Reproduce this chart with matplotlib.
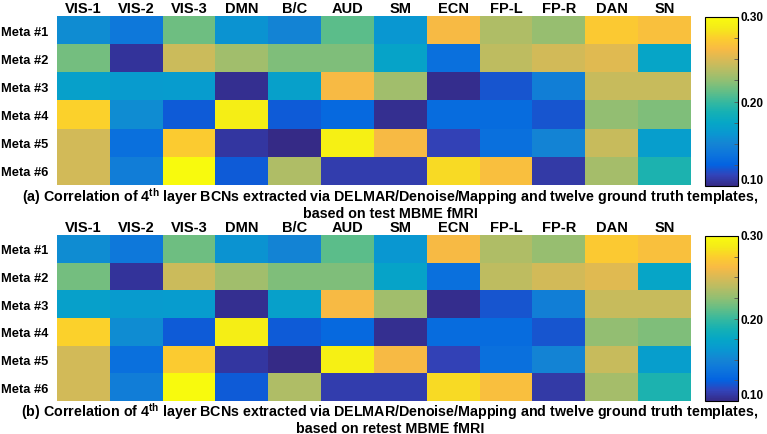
import matplotlib
matplotlib.use("Agg")
import matplotlib.pyplot as plt
import numpy as np
from matplotlib.colors import LinearSegmentedColormap

plt.rcParams['font.family'] = ['Liberation Sans', 'DejaVu Sans']
plt.rcParams['font.weight'] = 'bold'
plt.rcParams['mathtext.fontset'] = 'custom'
plt.rcParams['mathtext.rm'] = 'Liberation Sans:bold'
plt.rcParams['mathtext.bf'] = 'Liberation Sans:bold'

# networks (columns) and meta components (rows)
networks = ['VIS-1', 'VIS-2', 'VIS-3', 'DMN', 'B/C', 'AUD', 'SM',
            'ECN', 'FP-L', 'FP-R', 'DAN', 'SN']
metas = ['Meta #1', 'Meta #2', 'Meta #3', 'Meta #4', 'Meta #5', 'Meta #6']

corr_test = [
    [0.155, 0.140, 0.215, 0.160, 0.150, 0.210, 0.162, 0.262, 0.235, 0.227, 0.272, 0.266],
    [0.217, 0.105, 0.245, 0.230, 0.220, 0.220, 0.172, 0.135, 0.240, 0.247, 0.253, 0.174],
    [0.170, 0.165, 0.166, 0.103, 0.170, 0.262, 0.230, 0.102, 0.120, 0.146, 0.243, 0.243],
    [0.276, 0.155, 0.122, 0.290, 0.122, 0.130, 0.103, 0.132, 0.132, 0.120, 0.225, 0.220],
    [0.247, 0.135, 0.273, 0.107, 0.100, 0.292, 0.262, 0.112, 0.135, 0.150, 0.243, 0.168],
    [0.247, 0.145, 0.300, 0.122, 0.235, 0.110, 0.110, 0.280, 0.265, 0.108, 0.232, 0.190],
]
corr_retest = [row[:] for row in corr_test]

captions = [
    "(a) Correlation of 4$^{\\mathrm{th}}$ layer BCNs extracted via DELMAR/Denoise/Mapping "
    "and twelve ground truth templates,\nbased on test MBME fMRI",
    "(b) Correlation of 4$^{\\mathrm{th}}$ layer BCNs extracted via DELMAR/Denoise/Mapping "
    "and twelve ground truth templates,\nbased on retest MBME fMRI",
]

# approximate MATLAB parula
parula_pts = [
    (0.2081, 0.1663, 0.5292), (0.1959, 0.2645, 0.7279), (0.0117, 0.3875, 0.8820),
    (0.0498, 0.4586, 0.8641), (0.0793, 0.5200, 0.8312), (0.0343, 0.5966, 0.8199),
    (0.0228, 0.6535, 0.7768), (0.0843, 0.6928, 0.7062), (0.2178, 0.7250, 0.6193),
    (0.3953, 0.7459, 0.5244), (0.5709, 0.7485, 0.4494), (0.7184, 0.7411, 0.3905),
    (0.8507, 0.7299, 0.3360), (0.9739, 0.7314, 0.2666), (0.9880, 0.8066, 0.1794),
    (0.9598, 0.9218, 0.0948), (0.9763, 0.9831, 0.0538),
]
parula = LinearSegmentedColormap.from_list('parula', parula_pts)

W, H = 767, 435
fig = plt.figure(figsize=(W / 100, H / 100), dpi=100)


def px(l, t, r, b):
    return [l / W, 1 - b / H, (r - l) / W, (b - t) / H]


panels = [
    (corr_test, px(57, 17, 691, 186), px(705, 18, 738, 187), captions[0], 204),
    (corr_retest, px(57, 236, 691, 402), px(705, 237, 738, 402), captions[1], 419),
]

for data, ax_box, cb_box, cap, cap_y in panels:
    ax = fig.add_axes(ax_box)
    im = ax.imshow(np.array(data), cmap=parula, vmin=0.10, vmax=0.30,
                   aspect='auto', interpolation='nearest')
    ax.xaxis.tick_top()
    ax.set_xticks(range(len(networks)))
    ax.set_xticklabels(networks, fontsize=10.5, fontweight='bold')
    ax.set_yticks(range(len(metas)))
    ax.set_yticklabels(metas, fontsize=9.3, fontweight='bold')
    ax.tick_params(length=0, pad=6)
    ax.tick_params(axis='x', pad=1)
    for s in ax.spines.values():
        s.set_visible(False)

    cax = fig.add_axes(cb_box)
    cb = fig.colorbar(im, cax=cax, ticks=[0.10, 0.20, 0.30])
    cb.ax.set_yticklabels(['0.10', '0.20', '0.30'], fontsize=8.5, fontweight='bold')
    labels = cb.ax.get_yticklabels()
    labels[0].set_va('bottom')
    labels[-1].set_va('center')
    cb.ax.set_yticks([0.125, 0.15, 0.175, 0.225, 0.25, 0.275], minor=True)
    cb.ax.tick_params(which='both', direction='in', length=3, width=0.6,
                      color='#555555', pad=2)
    cb.outline.set_linewidth(0.8)

    fig.text(390 / W, 1 - cap_y / H, cap, ha='center', va='center',
             fontsize=10.3, fontweight='bold', linespacing=1.0)

fig.savefig('out.png', dpi=100)
